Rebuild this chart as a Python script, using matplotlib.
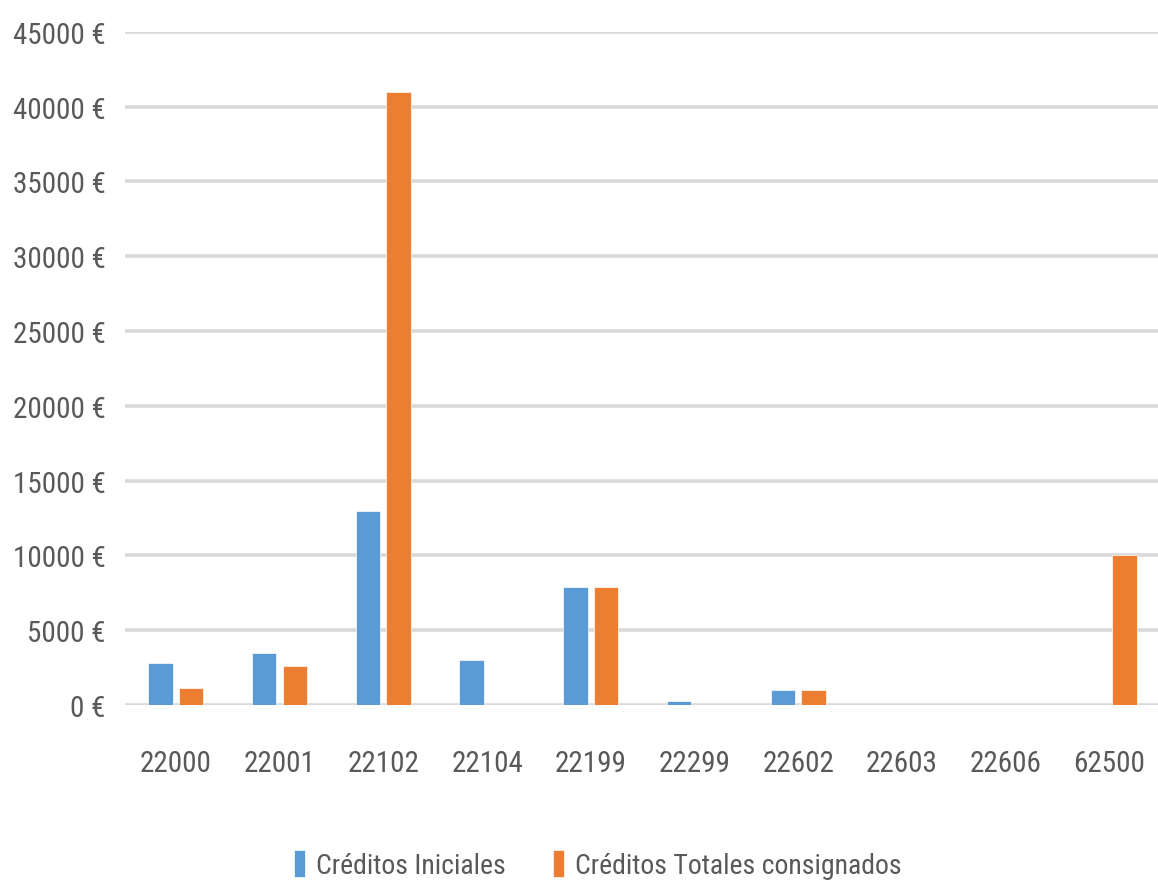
import matplotlib
matplotlib.use("Agg")
import matplotlib.pyplot as plt
import numpy as np

plt.rcParams['font.family'] = ['Roboto Condensed', 'Liberation Sans Narrow',
                               'Roboto', 'DejaVu Sans']

categories = ['22000', '22001', '22102', '22104', '22199',
              '22299', '22602', '22603', '22606', '62500']
creditos_iniciales = [2800, 3500, 13000, 3000, 7870, 270, 980, 0, 0, 0]
creditos_totales = [1150, 2600, 41000, 0, 7870, 0, 980, 0, 0, 10000]
series_names = ['Créditos Iniciales', 'Créditos Totales consignados']
y_ticks = list(range(0, 45001, 5000))

BLUE = '#5B9BD5'
ORANGE = '#ED7D31'
GRID = '#D9D9D9'
TEXT = '#595959'

fig = plt.figure(figsize=(11.58, 8.87), dpi=100, facecolor='white')
ax = fig.add_axes([0.108, 0.204, 0.892, 0.759])

x = np.arange(len(categories))
w = 0.235
off = 0.148
ax.bar(x - off, creditos_iniciales, w, color=BLUE, label=series_names[0],
       edgecolor='white', linewidth=0.5, zorder=3)
ax.bar(x + off, creditos_totales, w, color=ORANGE, label=series_names[1],
       edgecolor='white', linewidth=0.5, zorder=3)

ax.set_xlim(-0.49, 9.47)
ax.set_ylim(0, 45000)
ax.set_yticks(y_ticks)
ax.set_yticklabels([f'{v} €' for v in y_ticks])
ax.set_xticks(x)
ax.set_xticklabels(categories)

ax.yaxis.grid(True, color=GRID, linewidth=2.6, zorder=0)
ax.set_axisbelow(True)
for s in ax.spines.values():
    s.set_visible(False)
ax.tick_params(axis='both', length=0, labelsize=21, colors=TEXT)
ax.tick_params(axis='y', pad=14)
ax.tick_params(axis='x', pad=32)

fig.legend(loc='center', bbox_to_anchor=(0.516, 0.024), ncol=2, frameon=False,
           fontsize=20, labelcolor=TEXT, handlelength=0.4, handleheight=1.1,
           handletextpad=0.4, columnspacing=1.7)

fig.savefig('out.png', dpi=100, facecolor='white')
